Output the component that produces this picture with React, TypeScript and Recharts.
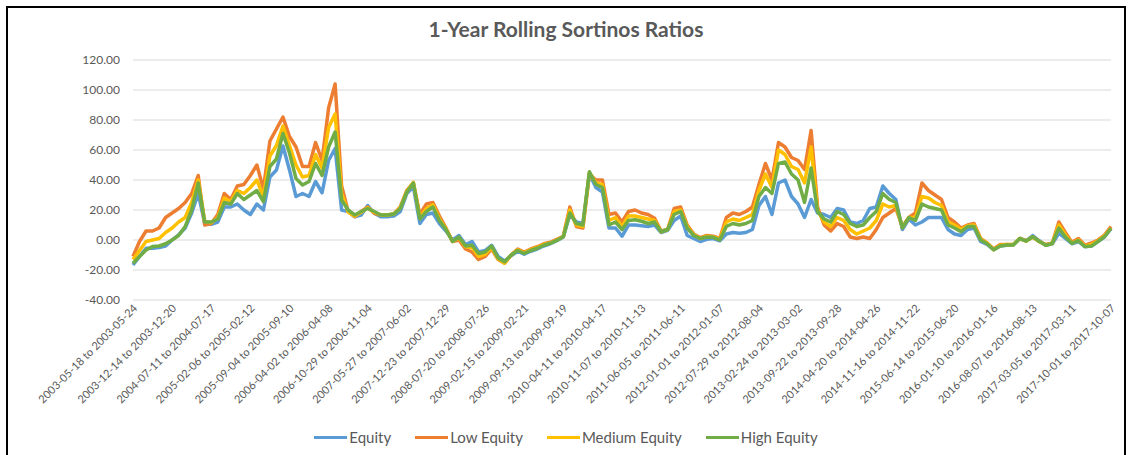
import { LineChart, Line, XAxis, YAxis, CartesianGrid } from 'recharts'

const FONT = 'Lato, "Liberation Sans", sans-serif'
const TEXT = '#595959'

// weekly rolling windows, one sample every 5 weeks; a date label every 30 weeks
const WEEK_STEP = 5
const LABEL_STEP = 30

const windowLabels = [
  '2003-05-18 to 2003-05-24', '2003-12-14 to 2003-12-20', '2004-07-11 to 2004-07-17',
  '2005-02-06 to 2005-02-12', '2005-09-04 to 2005-09-10', '2006-04-02 to 2006-04-08',
  '2006-10-29 to 2006-11-04', '2007-05-27 to 2007-06-02', '2007-12-23 to 2007-12-29',
  '2008-07-20 to 2008-07-26', '2009-02-15 to 2009-02-21', '2009-09-13 to 2009-09-19',
  '2010-04-11 to 2010-04-17', '2010-11-07 to 2010-11-13', '2011-06-05 to 2011-06-11',
  '2012-01-01 to 2012-01-07', '2012-07-29 to 2012-08-04', '2013-02-24 to 2013-03-02',
  '2013-09-22 to 2013-09-28', '2014-04-20 to 2014-04-26', '2014-11-16 to 2014-11-22',
  '2015-06-14 to 2015-06-20', '2016-01-10 to 2016-01-16', '2016-08-07 to 2016-08-13',
  '2017-03-05 to 2017-03-11', '2017-10-01 to 2017-10-07',
]

const yTicks = [-40, -20, 0, 20, 40, 60, 80, 100, 120]

const equity = [
  -16.7, -11, -5.5, -5.5, -5, -4, 0, 3.5, 8, 18, 31, 11, 10.5, 12, 22, 22, 24, 20, 17, 24,
  20, 42, 46.7, 62.7, 46.7, 29, 31, 29, 39, 31.5, 53, 61, 20, 19, 15.5, 16.7, 23, 17.8, 15.5, 15.5,
  16, 19, 31, 35.5, 11, 17, 18, 11, 6, 0, 3, -3, -1, -8, -7, -3.5, -11, -14, -10.5, -7.5,
  -9.5, -7.5, -6, -4, -2.5, -0.5, 2, 17, 12, 11, 44, 35, 32, 8, 8, 2.5, 10, 10, 9.5, 9,
  10, 5, 6.5, 13, 16, 3, 1, -1, 0.5, 1, -0.5, 4, 5, 4.5, 5, 7, 23, 29, 17, 38,
  40, 29, 24, 15, 27, 18, 17, 15, 21, 20, 12, 11, 13, 21, 22, 36, 31, 27, 7, 14,
  10, 12, 15, 15, 15, 7, 4, 3, 7, 8, -1, -3, -6.5, -4, -3.5, -3.3, 1, -0.5, 3, -0.5,
  -3.5, -2.5, 4.5, 1, -2.5, -1, -4.5, -4, -1, 2, 7.5,
]

const lowEquity = [
  -11, -1, 6, 6, 8, 15, 18, 21, 25, 31, 43, 10, 11, 17, 31, 27, 36, 37, 43, 50,
  34, 66, 74, 82, 69, 62, 49, 49, 65, 53, 88, 104, 36, 19, 15.5, 19, 22, 17.8, 16.7, 16.7,
  17.3, 22, 33, 38, 17, 24, 25, 16, 8, -1, 0, -6, -8, -13, -11, -6, -13, -15.5, -10, -6,
  -8, -6, -4.5, -2.5, -1.5, 0.5, 2.5, 22, 9, 8, 44, 40, 40, 17, 18, 12, 19, 20, 18, 17,
  14.5, 6, 7, 21, 22, 10, 4, 1.5, 3, 2.5, 1, 15, 18, 17, 19, 22, 37, 51, 40, 65,
  62, 55, 53, 47, 73, 22, 10, 6, 11, 9, 2, 1, 2, 1, 7, 15, 18, 21, 9, 15,
  18, 38, 33, 30, 27, 15, 12, 8, 10, 11, 1, -2, -6, -3, -3, -3, 1, -0.5, 2, -1,
  -3, -2, 12, 5, -1.5, 1, -3.5, -2, 0, 3.3, 9,
]

const mediumEquity = [
  -13, -7, -1, 0, 1, 5, 8, 12, 15, 25, 40, 12.5, 11.5, 15, 28, 25.5, 33, 31, 35, 40,
  29, 56, 63, 76, 63, 50, 42, 43, 57, 48, 75, 84, 31, 18.5, 16, 18.5, 21.5, 18.5, 16.7, 16.7,
  17.3, 21.5, 32.5, 38.5, 15, 21, 23.5, 14, 7.5, -1, 1.5, -4.5, -5, -11, -9.5, -5, -12.5, -15.5, -10, -6.5,
  -8.5, -6.5, -5, -3, -2, 0, 2.3, 20, 10, 9, 45, 38, 37, 13, 15, 9, 16, 16, 15, 14,
  13, 5.5, 7, 19, 20, 9, 3.5, 1, 2.5, 2, 0.5, 12, 14, 13, 15, 17, 33, 44, 35, 60,
  57, 49, 47, 38, 62, 20, 12, 9, 15, 13, 7, 4, 6, 8, 13, 24, 22, 23, 8.5, 15,
  15, 29, 28, 25, 23, 12, 10, 7, 9.5, 10, 0.5, -2, -6.5, -3.5, -3, -3.2, 1, -0.7, 2, -1,
  -3.3, -2.2, 10, 3.5, -2, 0, -4, -3, -0.5, 2.8, 8,
]

const highEquity = [
  -15.5, -11, -6.7, -4.4, -4, -2.5, 0, 3, 8.9, 20, 38, 12, 12, 14, 25, 24, 31, 27, 30, 33,
  25.6, 49, 54, 71, 58, 41, 36.7, 39, 51, 43, 62, 72, 26.7, 20, 16.7, 19, 21, 19, 16.7, 16.7,
  17.3, 21, 32, 38, 14, 19, 22, 13, 7, -1, 2, -4, -3.5, -9, -8, -4, -12, -14.5, -10, -7,
  -9, -7, -5.5, -3.5, -2.2, -0.3, 2.2, 18, 11, 10, 45.5, 37, 35, 10, 12, 7, 13, 13.5, 12.5, 11,
  12, 5.5, 7, 17, 19, 8, 3, 1, 2, 1.8, 0, 9, 11, 10, 11, 13, 29, 35, 31, 51,
  52, 44, 40, 25, 48, 19, 14, 12, 19, 17, 11, 9, 10, 15, 19, 31, 27, 25, 8, 15,
  13, 24, 22, 21, 20, 10, 8, 5.5, 9, 9, 0, -2.5, -6.5, -4, -3.3, -3.3, 1, -0.7, 2.2, -1,
  -3.5, -2.3, 8, 2, -2.2, -0.5, -4.4, -4, -1, 2.2, 7.8,
]

const series = [
  { key: 'equity', name: 'Equity', color: '#5B9BD5' },
  { key: 'low', name: 'Low Equity', color: '#ED7D31' },
  { key: 'medium', name: 'Medium Equity', color: '#FFC000' },
  { key: 'high', name: 'High Equity', color: '#70AD47' },
]

const rows = equity.map((v, i) => ({
  week: i * WEEK_STEP,
  equity: v,
  low: lowEquity[i],
  medium: mediumEquity[i],
  high: highEquity[i],
}))

const lastWeek = (windowLabels.length - 1) * LABEL_STEP
const labelWeeks = windowLabels.map((_, i) => i * LABEL_STEP)

function WindowTick({ x, y, payload }: any) {
  const label = windowLabels[Math.round(payload.value / LABEL_STEP)]
  const ax = x + 5
  const ay = y + 9
  return (
    <text
      x={ax}
      y={ay}
      transform={`rotate(-45 ${ax} ${ay})`}
      textAnchor="end"
      fill={TEXT}
      fontSize={11}
      fontFamily={FONT}
    >
      {label}
    </text>
  )
}

export default function App() {
  return (
    <div style={{ position: 'absolute', left: 0, top: 0, width: 1132, height: 455, overflow: 'hidden', background: '#fff' }}>
      <div
        style={{
          position: 'absolute', left: 6, top: 6, width: 1120, height: 470,
          border: '2px solid #000', boxSizing: 'border-box',
        }}
      />
      <div
        style={{
          position: 'absolute', left: 0, top: 16, width: 1132, textAlign: 'center',
          fontFamily: FONT, fontWeight: 700, fontSize: 21, color: TEXT,
        }}
      >
        1-Year Rolling Sortinos Ratios
      </div>
      <LineChart
        width={1132}
        height={455}
        data={rows}
        margin={{ top: 60, right: 21, bottom: 0, left: 0 }}
        style={{ position: 'absolute', left: 0, top: 0 }}
      >
        <CartesianGrid vertical={false} stroke="#d9d9d9" strokeWidth={1} />
        <XAxis
          dataKey="week"
          type="number"
          domain={[0, lastWeek]}
          ticks={labelWeeks}
          interval={0}
          tick={<WindowTick />}
          tickSize={0}
          tickMargin={0}
          axisLine={false}
          tickLine={false}
          height={155}
        />
        <YAxis
          domain={[-40, 120]}
          ticks={yTicks}
          tickFormatter={(v: number) => v.toFixed(2)}
          tick={{ fill: TEXT, fontSize: 12, fontFamily: FONT }}
          axisLine={false}
          tickLine={false}
          tickMargin={7}
          width={133}
        />
        {series.map(s => (
          <Line
            key={s.key}
            type="linear"
            dataKey={s.key}
            name={s.name}
            stroke={s.color}
            strokeWidth={3.5}
            strokeLinejoin="round"
            dot={false}
            isAnimationActive={false}
          />
        ))}
      </LineChart>
      <div
        style={{
          position: 'absolute', left: 0, top: 428, width: 1132, display: 'flex',
          justifyContent: 'center', gap: 24, fontFamily: FONT, fontSize: 15, color: TEXT,
        }}
      >
        {series.map(s => (
          <div key={s.key} style={{ display: 'flex', alignItems: 'center' }}>
            <span style={{ display: 'inline-block', width: 33, height: 3, background: s.color, marginRight: 2 }} />
            {s.name}
          </div>
        ))}
      </div>
    </div>
  )
}
